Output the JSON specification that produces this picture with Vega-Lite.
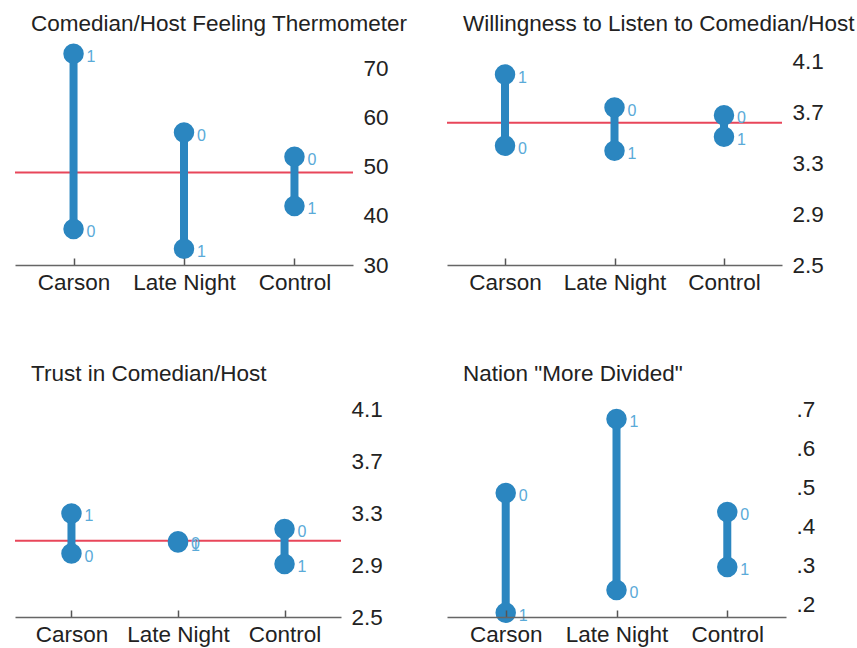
{
  "$schema": "https://vega.github.io/schema/vega-lite/v6.json",
  "padding": {"left": 14, "top": 12, "right": 5, "bottom": 5},
  "background": "white",
  "datasets": {
    "points": [
      {"panel": "A", "group": "Carson", "treat": "1", "value": 72.9},
      {"panel": "A", "group": "Carson", "treat": "0", "value": 37.3},
      {"panel": "A", "group": "Late Night", "treat": "0", "value": 56.9},
      {"panel": "A", "group": "Late Night", "treat": "1", "value": 33.3},
      {"panel": "A", "group": "Control", "treat": "0", "value": 52.0},
      {"panel": "A", "group": "Control", "treat": "1", "value": 42.0},
      {"panel": "B", "group": "Carson", "treat": "1", "value": 4.0},
      {"panel": "B", "group": "Carson", "treat": "0", "value": 3.44},
      {"panel": "B", "group": "Late Night", "treat": "0", "value": 3.74},
      {"panel": "B", "group": "Late Night", "treat": "1", "value": 3.4},
      {"panel": "B", "group": "Control", "treat": "0", "value": 3.68},
      {"panel": "B", "group": "Control", "treat": "1", "value": 3.51},
      {"panel": "C", "group": "Carson", "treat": "1", "value": 3.3},
      {"panel": "C", "group": "Carson", "treat": "0", "value": 2.99},
      {"panel": "C", "group": "Late Night", "treat": "0", "value": 3.085},
      {"panel": "C", "group": "Late Night", "treat": "1", "value": 3.075},
      {"panel": "C", "group": "Control", "treat": "0", "value": 3.18},
      {"panel": "C", "group": "Control", "treat": "1", "value": 2.91},
      {"panel": "D", "group": "Carson", "treat": "0", "value": 0.487},
      {"panel": "D", "group": "Carson", "treat": "1", "value": 0.18},
      {"panel": "D", "group": "Late Night", "treat": "1", "value": 0.677},
      {"panel": "D", "group": "Late Night", "treat": "0", "value": 0.238},
      {"panel": "D", "group": "Control", "treat": "0", "value": 0.438},
      {"panel": "D", "group": "Control", "treat": "1", "value": 0.297}
    ],
    "refs": [
      {"panel": "A", "value": 48.8},
      {"panel": "B", "value": 3.62},
      {"panel": "C", "value": 3.09}
    ]
  },
  "columns": 2,
  "bounds": "flush",
  "spacing": {"row": 127, "column": 94},
  "concat": [
    {
      "width": 338, "height": 223,
      "title": {"text": "Comedian/Host Feeling Thermometer"},
      "layer": [
        {"data": {"name": "refs"}, "transform": [{"filter": "datum.panel === 'A'"}],
         "mark": {"type": "rule", "color": "#e8465a", "strokeWidth": 2},
         "encoding": {"y": {"field": "value", "type": "quantitative", "title": null, "scale": {"domain": [30, 75.3], "nice": false, "zero": false}}}},
        {"data": {"name": "points"}, "transform": [{"filter": "datum.panel === 'A'"}],
         "mark": {"type": "rule", "color": "#2b86c0", "strokeWidth": 8},
         "encoding": {
           "x": {"field": "group", "type": "nominal", "title": null, "sort": ["Carson", "Late Night", "Control"], "scale": {"type": "point", "padding": 0.53}},
           "y": {"aggregate": "min", "field": "value", "type": "quantitative", "title": null, "scale": {"domain": [30, 75.3], "nice": false, "zero": false}},
           "y2": {"aggregate": "max", "field": "value"}}},
        {"data": {"name": "points"}, "transform": [{"filter": "datum.panel === 'A'"}],
         "mark": {"type": "circle", "color": "#2b86c0", "opacity": 1, "size": 420},
         "encoding": {
           "x": {"field": "group", "type": "nominal", "title": null, "sort": ["Carson", "Late Night", "Control"], "scale": {"type": "point", "padding": 0.53},
                 "axis": {"orient": "bottom", "labelAngle": 0, "labelAlign": "center", "labelBaseline": "top", "domainColor": "#666", "domainWidth": 1.5, "tickSize": -7, "tickColor": "#555", "tickWidth": 1.5, "labelPadding": 13, "labelFontSize": 22.5, "labelColor": "#222", "zindex": 1}},
           "y": {"field": "value", "type": "quantitative", "title": null, "scale": {"domain": [30, 75.3], "nice": false, "zero": false},
                 "axis": {"orient": "right", "domain": false, "ticks": false, "labelPadding": 10, "values": [30, 40, 50, 60, 70], "labelFontSize": 22.5, "labelColor": "#222"}}}},
        {"data": {"name": "points"}, "transform": [{"filter": "datum.panel === 'A'"}],
         "mark": {"type": "text", "align": "left", "baseline": "middle", "dx": 13, "dy": 3, "fontSize": 16, "color": "#5aaad8", "font": "Liberation Sans"},
         "encoding": {
           "x": {"field": "group", "type": "nominal", "title": null, "sort": ["Carson", "Late Night", "Control"], "scale": {"type": "point", "padding": 0.53}},
           "y": {"field": "value", "type": "quantitative", "title": null, "scale": {"domain": [30, 75.3], "nice": false, "zero": false}},
           "text": {"field": "treat"}}}
      ]
    },
    {
      "width": 335, "height": 223,
      "title": {"text": "Willingness to Listen to Comedian/Host"},
      "layer": [
        {"data": {"name": "refs"}, "transform": [{"filter": "datum.panel === 'B'"}],
         "mark": {"type": "rule", "color": "#e8465a", "strokeWidth": 2},
         "encoding": {"y": {"field": "value", "type": "quantitative", "title": null, "scale": {"domain": [2.5, 4.257], "nice": false, "zero": false}}}},
        {"data": {"name": "points"}, "transform": [{"filter": "datum.panel === 'B'"}],
         "mark": {"type": "rule", "color": "#2b86c0", "strokeWidth": 8},
         "encoding": {
           "x": {"field": "group", "type": "nominal", "title": null, "sort": ["Carson", "Late Night", "Control"], "scale": {"type": "point", "padding": 0.53}},
           "y": {"aggregate": "min", "field": "value", "type": "quantitative", "title": null, "scale": {"domain": [2.5, 4.257], "nice": false, "zero": false}},
           "y2": {"aggregate": "max", "field": "value"}}},
        {"data": {"name": "points"}, "transform": [{"filter": "datum.panel === 'B'"}],
         "mark": {"type": "circle", "color": "#2b86c0", "opacity": 1, "size": 420},
         "encoding": {
           "x": {"field": "group", "type": "nominal", "title": null, "sort": ["Carson", "Late Night", "Control"], "scale": {"type": "point", "padding": 0.53},
                 "axis": {"orient": "bottom", "labelAngle": 0, "labelAlign": "center", "labelBaseline": "top", "domainColor": "#666", "domainWidth": 1.5, "tickSize": -7, "tickColor": "#555", "tickWidth": 1.5, "labelPadding": 13, "labelFontSize": 22.5, "labelColor": "#222", "zindex": 1}},
           "y": {"field": "value", "type": "quantitative", "title": null, "scale": {"domain": [2.5, 4.257], "nice": false, "zero": false},
                 "axis": {"orient": "right", "domain": false, "ticks": false, "labelPadding": 10, "values": [2.5, 2.9, 3.3, 3.7, 4.1], "format": ".1f", "labelFontSize": 22.5, "labelColor": "#222"}}}},
        {"data": {"name": "points"}, "transform": [{"filter": "datum.panel === 'B'"}],
         "mark": {"type": "text", "align": "left", "baseline": "middle", "dx": 13, "dy": 3, "fontSize": 16, "color": "#5aaad8", "font": "Liberation Sans"},
         "encoding": {
           "x": {"field": "group", "type": "nominal", "title": null, "sort": ["Carson", "Late Night", "Control"], "scale": {"type": "point", "padding": 0.53}},
           "y": {"field": "value", "type": "quantitative", "title": null, "scale": {"domain": [2.5, 4.257], "nice": false, "zero": false}},
           "text": {"field": "treat"}}}
      ]
    },
    {
      "width": 326, "height": 225,
      "title": {"text": "Trust in Comedian/Host"},
      "layer": [
        {"data": {"name": "refs"}, "transform": [{"filter": "datum.panel === 'C'"}],
         "mark": {"type": "rule", "color": "#e8465a", "strokeWidth": 2},
         "encoding": {"y": {"field": "value", "type": "quantitative", "title": null, "scale": {"domain": [2.5, 4.239], "nice": false, "zero": false}}}},
        {"data": {"name": "points"}, "transform": [{"filter": "datum.panel === 'C'"}],
         "mark": {"type": "rule", "color": "#2b86c0", "strokeWidth": 8},
         "encoding": {
           "x": {"field": "group", "type": "nominal", "title": null, "sort": ["Carson", "Late Night", "Control"], "scale": {"type": "point", "padding": 0.53}},
           "y": {"aggregate": "min", "field": "value", "type": "quantitative", "title": null, "scale": {"domain": [2.5, 4.239], "nice": false, "zero": false}},
           "y2": {"aggregate": "max", "field": "value"}}},
        {"data": {"name": "points"}, "transform": [{"filter": "datum.panel === 'C'"}],
         "mark": {"type": "circle", "color": "#2b86c0", "opacity": 1, "size": 420},
         "encoding": {
           "x": {"field": "group", "type": "nominal", "title": null, "sort": ["Carson", "Late Night", "Control"], "scale": {"type": "point", "padding": 0.53},
                 "axis": {"orient": "bottom", "labelAngle": 0, "labelAlign": "center", "labelBaseline": "top", "domainColor": "#666", "domainWidth": 1.5, "tickSize": -7, "tickColor": "#555", "tickWidth": 1.5, "labelPadding": 13, "labelFontSize": 22.5, "labelColor": "#222", "zindex": 1}},
           "y": {"field": "value", "type": "quantitative", "title": null, "scale": {"domain": [2.5, 4.239], "nice": false, "zero": false},
                 "axis": {"orient": "right", "domain": false, "ticks": false, "labelPadding": 10, "values": [2.5, 2.9, 3.3, 3.7, 4.1], "format": ".1f", "labelFontSize": 22.5, "labelColor": "#222"}}}},
        {"data": {"name": "points"}, "transform": [{"filter": "datum.panel === 'C'"}],
         "mark": {"type": "text", "align": "left", "baseline": "middle", "dx": 13, "dy": 3, "fontSize": 16, "color": "#5aaad8", "font": "Liberation Sans"},
         "encoding": {
           "x": {"field": "group", "type": "nominal", "title": null, "sort": ["Carson", "Late Night", "Control"], "scale": {"type": "point", "padding": 0.53}},
           "y": {"field": "value", "type": "quantitative", "title": null, "scale": {"domain": [2.5, 4.239], "nice": false, "zero": false}},
           "text": {"field": "treat"}}}
      ]
    },
    {
      "width": 339, "height": 225,
      "title": {"text": "Nation \"More Divided\""},
      "layer": [
        {"data": {"name": "points"}, "transform": [{"filter": "datum.panel === 'D'"}],
         "mark": {"type": "rule", "color": "#2b86c0", "strokeWidth": 8},
         "encoding": {
           "x": {"field": "group", "type": "nominal", "title": null, "sort": ["Carson", "Late Night", "Control"], "scale": {"type": "point", "padding": 0.53}},
           "y": {"aggregate": "min", "field": "value", "type": "quantitative", "title": null, "scale": {"domain": [0.169, 0.746], "nice": false, "zero": false}},
           "y2": {"aggregate": "max", "field": "value"}}},
        {"data": {"name": "points"}, "transform": [{"filter": "datum.panel === 'D'"}],
         "mark": {"type": "circle", "color": "#2b86c0", "opacity": 1, "size": 420},
         "encoding": {
           "x": {"field": "group", "type": "nominal", "title": null, "sort": ["Carson", "Late Night", "Control"], "scale": {"type": "point", "padding": 0.53},
                 "axis": {"orient": "bottom", "labelAngle": 0, "labelAlign": "center", "labelBaseline": "top", "domainColor": "#666", "domainWidth": 1.5, "tickSize": -7, "tickColor": "#555", "tickWidth": 1.5, "labelPadding": 13, "labelFontSize": 22.5, "labelColor": "#222", "zindex": 1}},
           "y": {"field": "value", "type": "quantitative", "title": null, "scale": {"domain": [0.169, 0.746], "nice": false, "zero": false},
                 "axis": {"orient": "right", "domain": false, "ticks": false, "labelPadding": 10, "values": [0.2, 0.3, 0.4, 0.5, 0.6, 0.7], "labelExpr": "substring(format(datum.value, '.1f'), 1)", "labelFontSize": 22.5, "labelColor": "#222"}}}},
        {"data": {"name": "points"}, "transform": [{"filter": "datum.panel === 'D'"}],
         "mark": {"type": "text", "align": "left", "baseline": "middle", "dx": 13, "dy": 3, "fontSize": 16, "color": "#5aaad8", "font": "Liberation Sans"},
         "encoding": {
           "x": {"field": "group", "type": "nominal", "title": null, "sort": ["Carson", "Late Night", "Control"], "scale": {"type": "point", "padding": 0.53}},
           "y": {"field": "value", "type": "quantitative", "title": null, "scale": {"domain": [0.169, 0.746], "nice": false, "zero": false}},
           "text": {"field": "treat"}}}
      ]
    }
  ],
  "config": {
    "view": {"stroke": null},
    "font": "Liberation Sans",
    "axis": {"labelFont": "Liberation Sans", "grid": false},
    "title": {"font": "Liberation Sans", "fontSize": 22.5, "fontWeight": "normal", "color": "#222", "anchor": "start", "frame": "group", "dx": 16, "offset": 7}
  }
}
